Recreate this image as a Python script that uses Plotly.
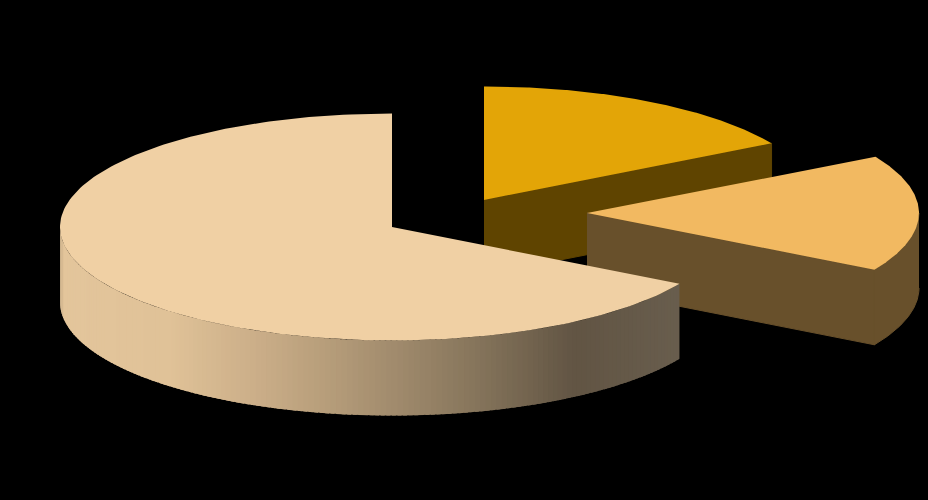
import numpy as np
import plotly.graph_objects as go

# Data: slice shares (percent), clockwise from 12 o'clock
categories = ["Slice A", "Slice B", "Slice C"]
values = [16.67, 16.67, 66.66]

# Styles and layout of the tilted, exploded pie
top_colors = ["#e3a507", "#f2b961", "#f0d0a4"]
side_colors = ["#5f4400", "#68502b", None]
centers = [(484, 200), (587, 213), (392, 227)]
RX, RY, DEPTH = 332, 113.5, 75
grad_x = [60, 170, 250, 330, 392, 480, 574, 680]
grad_rgb = [(228, 198, 156), (224, 194, 152), (205, 176, 138), (182, 157, 122),
            (162, 140, 110), (133, 116, 91), (98, 85, 68), (105, 94, 78)]

fig = go.Figure()


def add_poly(x, y, color, width=0.0):
    fig.add_trace(go.Scatter(x=x, y=y, mode="lines", fill="toself", fillcolor=color,
                             line=dict(width=width, color=color), hoverinfo="skip", showlegend=False))


def rim(c, t, dz=0.0):
    return c[0] + RX * np.sin(t), c[1] - RY * np.cos(t) + dz


start = 0.0
for val, top, side, c, name in zip(values, top_colors, side_colors, centers, categories):
    sweep = val / sum(values) * 2 * np.pi
    t = np.linspace(start, start + sweep, 200)
    xt, yt = rim(c, t)
    lo = max(start, np.pi / 2)
    hi = min(start + sweep, 3 * np.pi / 2)
    if side is not None:
        # outer wall: only the part that faces the viewer
        if hi > lo:
            tw = np.linspace(lo, hi, 100)
            xa, ya = rim(c, tw)
            xz, yz = rim(c, tw, DEPTH)
            add_poly(np.r_[xa, xz[::-1]], np.r_[ya, yz[::-1]], side, 1)
        # cut face from the apex to the trailing edge
        add_poly([c[0], xt[-1], xt[-1], c[0]],
                 [c[1], yt[-1], yt[-1] + DEPTH, c[1] + DEPTH], side, 1)
    else:
        # shaded outer wall drawn in narrow vertical bands
        bands = np.linspace(hi, lo, 156)
        for a, b in zip(bands[:-1], bands[1:]):
            tt = np.linspace(a, max(b - 0.012, lo), 6)
            xa, ya = rim(c, tt)
            xz, yz = rim(c, tt, DEPTH)
            mid = c[0] + RX * np.sin((a + b) / 2)
            col = [np.interp(mid, grad_x, [g[i] for g in grad_rgb]) for i in range(3)]
            add_poly(np.r_[xa, xz[::-1]], np.r_[ya, yz[::-1]],
                     "rgb(%d,%d,%d)" % tuple(col))
    # top face
    add_poly(np.r_[c[0], xt, c[0]], np.r_[c[1], yt, c[1]], top)
    start += sweep

fig.update_xaxes(range=[0, 928], visible=False, fixedrange=True)
fig.update_yaxes(range=[500, 0], visible=False, fixedrange=True)
fig.update_layout(width=928, height=500, margin=dict(l=0, r=0, t=0, b=0),
                  paper_bgcolor="#000000", plot_bgcolor="#000000", showlegend=False)
fig.write_html("out.html", config={"displayModeBar": False},
               post_script="document.body.style.margin='0';document.body.style.background='#000';")
